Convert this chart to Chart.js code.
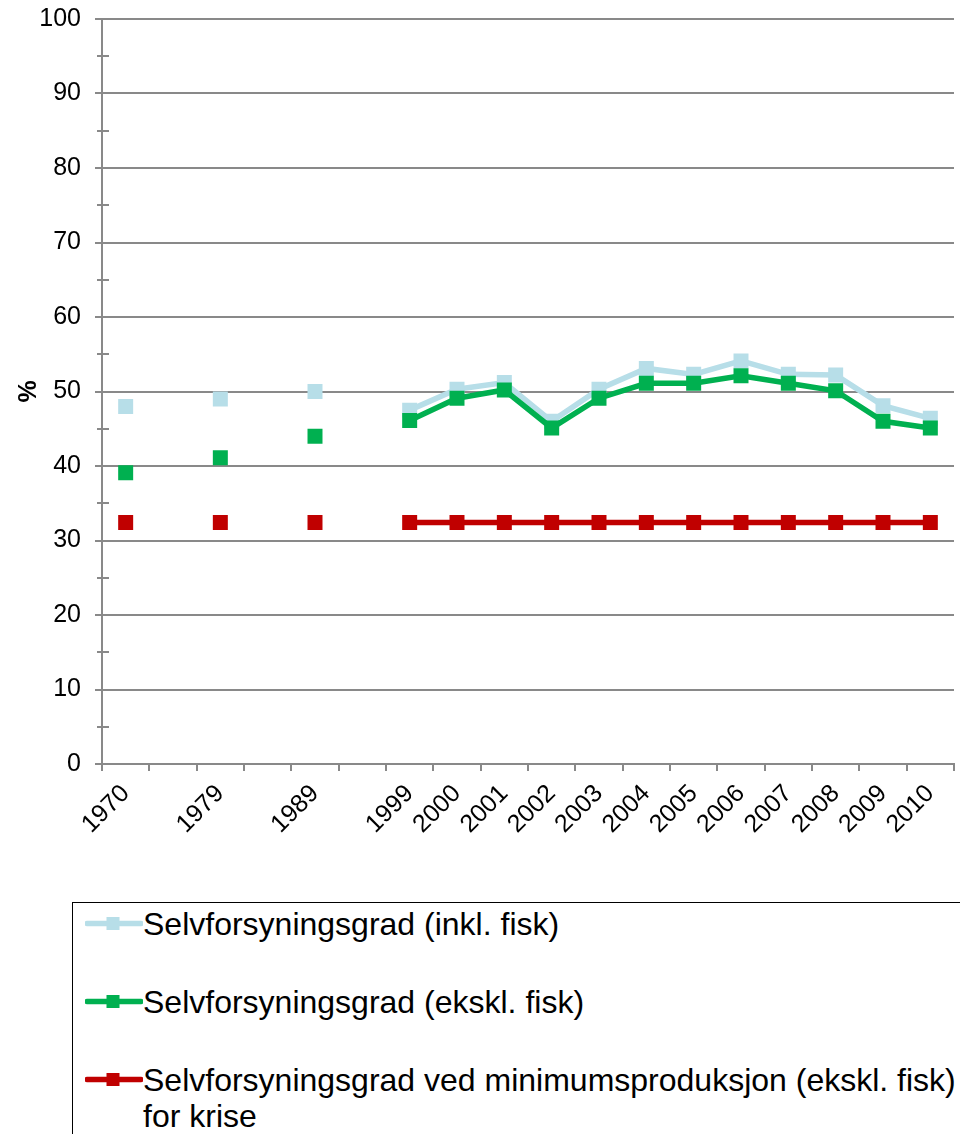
<!DOCTYPE html>
<html>
<head>
<meta charset="utf-8">
<script src="https://cdn.jsdelivr.net/npm/chart.js@4/dist/chart.umd.min.js"></script>
<style>
  html, body { margin: 0; padding: 0; background: #fff; overflow: hidden; }
  body { width: 960px; height: 1134px; position: relative; font-family: "Liberation Sans", Arial, sans-serif; }
  #wrap { position: absolute; left: 0; top: 0; width: 960px; height: 880px; }
  #legend { position: absolute; left: 72px; top: 902px; width: 930px; height: 300px;
            border: 1.5px solid #000; box-sizing: border-box; }
  .item { position: absolute; left: 12px; font-size: 32px; line-height: 36px; color: #000; }
  .item svg { position: absolute; left: 0; }
  .item span { position: absolute; left: 58px; top: 0; width: 840px; }
</style>
</head>
<body>
<div id="wrap"><canvas id="chart" width="960" height="880"></canvas></div>
<div id="legend"></div>
<script>
// categories (blank slots keep the spacing of the original axis)
const years = ['1970', '', '1979', '', '1989', '', '1999', '2000', '2001', '2002', '2003',
               '2004', '2005', '2006', '2007', '2008', '2009', '2010'];

// series values, in %
const inklFisk = [48, null, 49, null, 50, null, 47.5, 50.3, 51.2, 46, 50.3,
                  53.1, 52.3, 54.1, 52.3, 52.2, 48.1, 46.4];
const ekslFisk = [39.1, null, 41.1, null, 44, null, 46.1, 49.1, 50.2, 45.1, 49.1,
                  51.1, 51.1, 52.1, 51.1, 50.1, 46, 45.1];
const minProd = [32.4, null, 32.4, null, 32.4, null, 32.4, 32.4, 32.4, 32.4, 32.4,
                 32.4, 32.4, 32.4, 32.4, 32.4, 32.4, 32.4];

const seriesNames = [
    'Selvforsyningsgrad (inkl. fisk)',
    'Selvforsyningsgrad (ekskl. fisk)',
    'Selvforsyningsgrad ved minimumsproduksjon (ekskl. fisk) for krise'
];
const seriesColors = ['#B7DEE8', '#00B050', '#C00000'];

const axisGrey = '#898989';
const font = '"Liberation Sans", Arial, sans-serif';

// minor tick marks every 5 %, crossing the y axis like in Excel
const minorTicks = {
    id: 'minorTicks',
    afterDraw: function (chart) {
        var y = chart.scales.y;
        var x0 = chart.chartArea.left;
        var ctx = chart.ctx;
        ctx.save();
        ctx.strokeStyle = axisGrey;
        ctx.lineWidth = 2;
        for (var v = 5; v < 100; v += 10) {
            var py = Math.round(y.getPixelForValue(v));
            ctx.beginPath();
            ctx.moveTo(x0 - 5, py);
            ctx.lineTo(x0 + 7, py);
            ctx.stroke();
        }
        ctx.restore();
    }
};

function makeSet(i, data, order) {
    return {
        label: seriesNames[i],
        data: data,
        order: order,
        borderColor: seriesColors[i],
        backgroundColor: seriesColors[i],
        borderWidth: 5.5,
        pointStyle: 'rect',
        pointRadius: 10.6,
        pointBorderWidth: 0,
        pointBackgroundColor: seriesColors[i],
        spanGaps: false,
        tension: 0
    };
}

new Chart(document.getElementById('chart').getContext('2d'), {
    type: 'line',
    data: {
        labels: years,
        datasets: [
            makeSet(0, inklFisk, 1),
            makeSet(1, ekslFisk, 0),
            makeSet(2, minProd, 2)
        ]
    },
    options: {
        responsive: false,
        animation: false,
        layout: { autoPadding: false, padding: { left: 0, top: 19, right: 6, bottom: 0 } },
        plugins: {
            legend: { display: false },
            tooltip: { enabled: false }
        },
        scales: {
            x: {
                offset: true,
                grid: {
                    offset: true,
                    drawOnChartArea: false,
                    color: axisGrey,
                    lineWidth: 2,
                    tickLength: 7
                },
                border: { color: axisGrey, width: 2 },
                ticks: {
                    autoSkip: false,
                    maxRotation: 45,
                    minRotation: 45,
                    padding: 8,
                    color: '#000',
                    font: { family: font, size: 25 }
                },
                afterFit: function (scale) {
                    scale.height = 116;
                    scale.paddingLeft = 0;
                    scale.paddingRight = 0;
                }
            },
            y: {
                min: 0,
                max: 100,
                ticks: {
                    stepSize: 10,
                    padding: 14,
                    color: '#000',
                    font: { family: font, size: 25 }
                },
                grid: {
                    color: axisGrey,
                    lineWidth: 2,
                    tickLength: 7
                },
                border: { color: axisGrey, width: 2 },
                title: {
                    display: true,
                    text: '%',
                    color: '#000',
                    padding: { top: 14, bottom: 0 },
                    font: { family: font, size: 25, weight: 'bold' }
                },
                afterFit: function (scale) {
                    scale.width = 102;
                    scale.paddingTop = 0;
                    scale.paddingBottom = 0;
                }
            }
        }
    },
    plugins: [minorTicks]
});

// legend box below the chart
const legend = document.getElementById('legend');
const legendTops = [3, 81, 159];
seriesNames.forEach(function (name, i) {
    var item = document.createElement('div');
    item.className = 'item';
    item.style.top = legendTops[i] + 'px';
    item.innerHTML =
        '<svg width="58" height="36" viewBox="0 0 58 36">' +
        '<line x1="2" y1="17.5" x2="56" y2="17.5" stroke="' + seriesColors[i] + '" stroke-width="5.5" stroke-linecap="round"/>' +
        '<rect x="21.5" y="11" width="13" height="13" fill="' + seriesColors[i] + '"/></svg>' +
        '<span></span>';
    item.querySelector('span').textContent = name;
    legend.appendChild(item);
});
</script>
</body>
</html>
